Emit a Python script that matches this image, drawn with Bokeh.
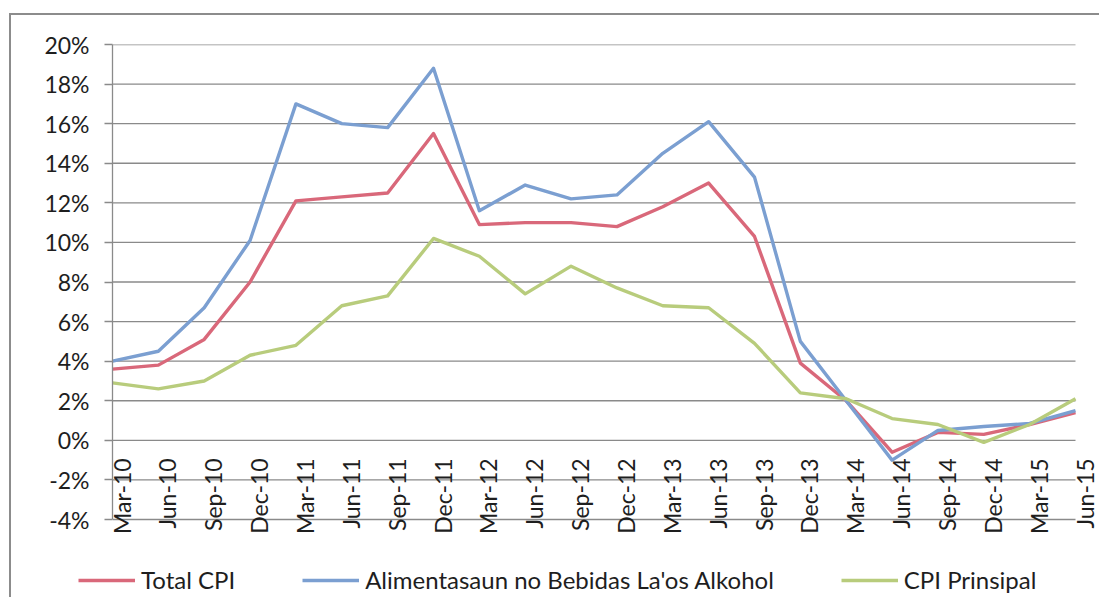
import math
from bokeh.plotting import figure
from bokeh.models import (ColumnDataSource, FixedTicker, PrintfTickFormatter,
                          Legend, LegendItem, Range1d)
from bokeh.core.properties import value
from bokeh.embed import file_html
from bokeh.resources import INLINE

quarters = ["Mar-10", "Jun-10", "Sep-10", "Dec-10", "Mar-11", "Jun-11", "Sep-11", "Dec-11",
            "Mar-12", "Jun-12", "Sep-12", "Dec-12", "Mar-13", "Jun-13", "Sep-13", "Dec-13",
            "Mar-14", "Jun-14", "Sep-14", "Dec-14", "Mar-15", "Jun-15"]
total_cpi = [3.6, 3.8, 5.1, 8.0, 12.1, 12.3, 12.5, 15.5, 10.9, 11.0, 11.0, 10.8,
             11.8, 13.0, 10.3, 3.9, 2.0, -0.6, 0.4, 0.3, 0.8, 1.4]
alimentasaun = [4.0, 4.5, 6.7, 10.1, 17.0, 16.0, 15.8, 18.8, 11.6, 12.9, 12.2, 12.4,
                14.5, 16.1, 13.3, 5.0, 2.0, -1.0, 0.5, 0.7, 0.85, 1.5]
cpi_prinsipal = [2.9, 2.6, 3.0, 4.3, 4.8, 6.8, 7.3, 10.2, 9.3, 7.4, 8.8, 7.7,
                 6.8, 6.7, 4.9, 2.4, 2.1, 1.1, 0.8, -0.1, 0.8, 2.1]
series_names = ["Total CPI", "Alimentasaun no Bebidas La'os Alkohol", "CPI Prinsipal"]
series_colors = ["#d9687a", "#7b9fd1", "#b8cc7c"]
y_ticks = [-4, -2, 0, 2, 4, 6, 8, 10, 12, 14, 16, 18, 20]

FONT = "Lato"
TXT = "#1e1e1e"
GRID = "#8a8a8a"
LW = 3.4
BORDER = "2px solid #8c8c8c"

n = len(quarters)
xs = list(range(n))
src = ColumnDataSource(dict(x=xs, q=quarters, t=total_cpi, a=alimentasaun,
                            c=cpi_prinsipal, zero=[0] * n))
grid_src = ColumnDataSource(dict(y=y_ticks, x0=[0] * len(y_ticks), x1=[n - 1] * len(y_ticks)))

PX_X = 963 / (n - 1)                      # pixels per category step
PX_Y = 475 / (y_ticks[-1] - y_ticks[0])   # pixels per percent
x_end = (n - 1) + 26 / PX_X
y_start = y_ticks[-1] - 504 / PX_Y

p = figure(width=1090, height=533, output_backend="svg", toolbar_location=None,
           x_range=Range1d(0, x_end), y_range=Range1d(y_start, y_ticks[-1]),
           min_border_left=101, min_border_right=0, min_border_top=29, min_border_bottom=0,
           styles={"border-top": BORDER, "border-left": BORDER,
                   "margin-top": "13px", "margin-left": "9px"})
p.outline_line_color = None
p.background_fill_color = "white"
p.border_fill_color = "white"

p.xaxis.visible = False
p.xgrid.visible = False
p.ygrid.visible = False

p.yaxis.ticker = FixedTicker(ticks=y_ticks)
p.yaxis.bounds = (y_ticks[0], y_ticks[-1])
p.yaxis.formatter = PrintfTickFormatter(format="%d%%")
p.yaxis.axis_line_color = GRID
p.yaxis.axis_line_width = 1.3
p.yaxis.major_tick_line_color = GRID
p.yaxis.major_tick_line_width = 1.3
p.yaxis.major_tick_out = 8
p.yaxis.major_tick_in = 0
p.yaxis.minor_tick_line_color = None
p.yaxis.major_label_standoff = 15
p.yaxis.major_label_text_font = FONT
p.yaxis.major_label_text_font_size = "23px"
p.yaxis.major_label_text_color = TXT

p.segment("x0", "y", "x1", "y", source=grid_src, line_color=GRID, line_width=1.3)

r_t = p.line("x", "t", source=src, line_color=series_colors[0], line_width=LW, line_join="round")
r_a = p.line("x", "a", source=src, line_color=series_colors[1], line_width=LW, line_join="round")
r_c = p.line("x", "c", source=src, line_color=series_colors[2], line_width=LW, line_join="round")

p.text("x", "zero", text="q", source=src, angle=math.pi / 2, text_align="right",
       text_baseline="middle", x_offset=9, y_offset=18, text_font=value(FONT),
       text_font_size="23px", text_color=TXT)

# legend strip below the chart (its lines lie outside its visible range)
lg = figure(width=1090, height=51, output_backend="svg", toolbar_location=None,
            x_range=Range1d(0, n - 1), y_range=Range1d(1000, 1001),
            min_border_left=0, min_border_right=0, min_border_top=0, min_border_bottom=0,
            styles={"border-left": BORDER, "margin-left": "9px"})
lg.outline_line_color = None
lg.xaxis.visible = False
lg.yaxis.visible = False
lg.xgrid.visible = False
lg.ygrid.visible = False
lg.background_fill_color = "white"
lg.border_fill_color = "white"
lr = [lg.line("x", col, source=src, line_color=c, line_width=LW)
      for col, c in zip(["t", "a", "c"], series_colors)]

legend = Legend(items=[LegendItem(label=nm, renderers=[r]) for nm, r in zip(series_names, lr)],
                orientation="horizontal", location=(67, 3), padding=0, margin=0,
                spacing=67, glyph_width=57, glyph_height=22, label_standoff=6,
                label_text_font=FONT, label_text_font_size="24px", label_text_color=TXT,
                border_line_color=None, background_fill_alpha=0)
lg.add_layout(legend, "center")

open("out.html", "w").write(file_html([p, lg], INLINE))
